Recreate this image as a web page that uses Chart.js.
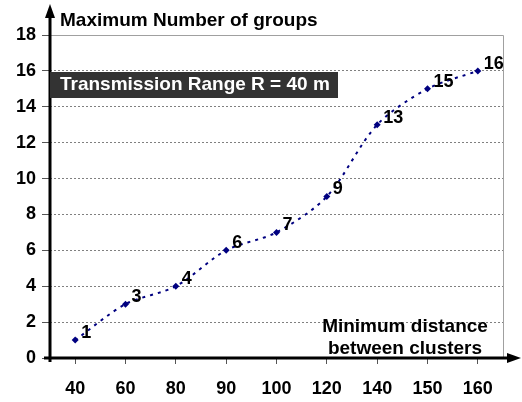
<!DOCTYPE html>
<html>
<head>
<meta charset="utf-8">
<script src="https://cdn.jsdelivr.net/npm/chart.js@4.4.0/dist/chart.umd.min.js"></script>
<style>
  html,body{margin:0;padding:0;background:#fff;}
  #wrap{width:522px;height:402px;position:relative;}
</style>
</head>
<body>
<div id="wrap"><canvas id="c"></canvas></div>
<script>
// -------- DATA ----------
const distances = ['40','60','80','90','100','120','140','150','160'];
const maxGroups = [1, 3, 4, 6, 7, 9, 13, 15, 16];
const yTicks    = [0, 2, 4, 6, 8, 10, 12, 14, 16, 18];

const FONT = "'Liberation Sans', Arial, sans-serif";

// -------- PLUGINS ----------
// axis arrows, frame and captions
const decor = {
  id: 'decor',
  afterDraw(chart){
    const {ctx, chartArea:{left,right,top,bottom}} = chart;
    ctx.save();
    // solid top + right frame
    ctx.strokeStyle = '#a0a0a0';
    ctx.lineWidth = 1;
    ctx.beginPath();
    ctx.moveTo(left, top + .5); ctx.lineTo(right + .5, top + .5);
    ctx.lineTo(right + .5, bottom);
    ctx.stroke();

    // axes
    ctx.strokeStyle = '#000'; ctx.fillStyle = '#000';
    ctx.lineWidth = 3;
    ctx.beginPath();
    ctx.moveTo(left, bottom + 4); ctx.lineTo(left, 14);
    ctx.moveTo(left - 6, bottom); ctx.lineTo(512, bottom);
    ctx.stroke();
    // arrow heads
    ctx.beginPath();
    ctx.moveTo(left, 4); ctx.lineTo(left - 5, 18); ctx.lineTo(left + 5, 18); ctx.closePath();
    ctx.fill();
    ctx.beginPath();
    ctx.moveTo(521, bottom); ctx.lineTo(507, bottom - 5); ctx.lineTo(507, bottom + 5); ctx.closePath();
    ctx.fill();

    // title
    ctx.font = `bold 19px ${FONT}`;
    ctx.textBaseline = 'middle';
    ctx.textAlign = 'left';
    ctx.fillText('Maximum Number of groups', 60, 21);

    // dark box
    ctx.fillStyle = '#333333';
    ctx.fillRect(50, 72, 288, 26);
    ctx.fillStyle = '#fff';
    ctx.fillText('Transmission Range R = 40 m', 60, 85);

    // x axis caption
    ctx.fillStyle = '#000';
    ctx.textAlign = 'center';
    ctx.fillText('Minimum distance', 405, 327);
    ctx.fillText('between clusters', 405, 349);

    // point value labels
    const meta = chart.getDatasetMeta(0);
    ctx.textAlign = 'left';
    ctx.font = `bold 18px ${FONT}`;
    meta.data.forEach((pt, i)=>{
      ctx.fillText(String(maxGroups[i]), pt.x + 6, pt.y - 7);
    });
    ctx.restore();
  }
};

// -------- CHART ----------
new Chart(document.getElementById('c').getContext('2d'), {
  type: 'line',
  data: {
    labels: distances,
    datasets: [{
      data: maxGroups,
      borderColor: '#000080',
      backgroundColor: '#000080',
      borderWidth: 2,
      borderDash: [3, 5],
      tension: .3,
      pointStyle: 'rectRot',
      pointRadius: 3.5,
      pointBorderWidth: 0,
      fill: false
    }]
  },
  options: {
    responsive: true,
    maintainAspectRatio: false,
    animation: false,
    layout: { padding: { left: 0, right: 19, top: 35, bottom: 0 } },
    plugins: { legend: { display: false }, tooltip: { enabled: false } },
    scales: {
      x: {
        type: 'category',
        offset: true,
        afterFit: s => { s.height = 44; },
        grid: { drawOnChartArea: false, drawTicks: true, tickLength: 6, color: '#555', tickWidth: 1 },
        border: { display: false },
        ticks: { color: '#000', padding: 14, font: { family: FONT, size: 18, weight: 'bold' } }
      },
      y: {
        min: 0, max: 18,
        afterFit: s => { s.width = 50; },
        afterBuildTicks: s => { s.ticks = yTicks.map(v => ({ value: v })); },
        grid: {
          color: ctx => ctx.tick && ctx.tick.value === 0 ? 'rgba(0,0,0,0)' : '#808080',
          tickColor: '#555',
          lineWidth: 1,
          drawTicks: true,
          tickLength: 8
        },
        border: { display: false, dash: [2, 2] },
        ticks: { color: '#000', padding: 6, font: { family: FONT, size: 18, weight: 'bold' } }
      }
    }
  },
  plugins: [decor]
});
</script>
</body>
</html>
